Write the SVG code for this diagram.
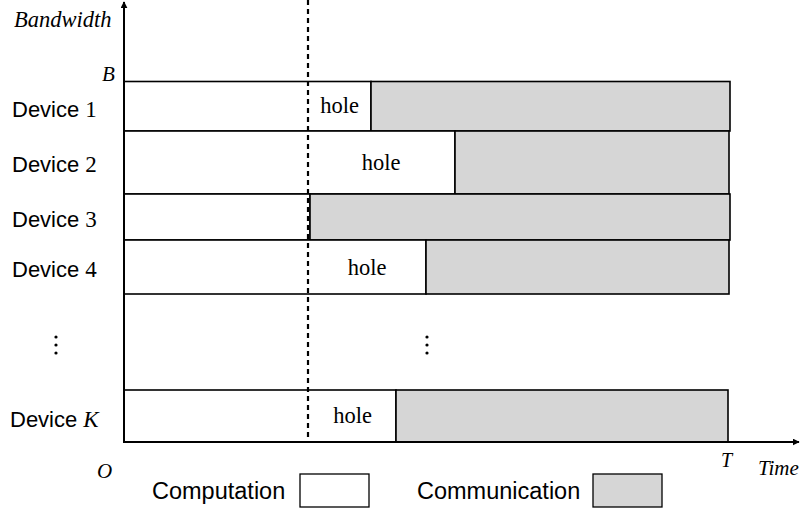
<svg xmlns="http://www.w3.org/2000/svg" width="801" height="512" viewBox="0 0 801 512">
<defs>
<style>
.sans{font-family:"Liberation Sans",Arial,sans-serif;font-size:22px;fill:#000}
.leg{font-family:"Liberation Sans",Arial,sans-serif;font-size:23.5px;fill:#000}
.serif{font-family:"Liberation Serif","Times New Roman",serif;fill:#000}
.it{font-style:italic}
.comp{fill:#fff;stroke:#000;stroke-width:1.6}
.comm{fill:#d6d6d6;stroke:#000;stroke-width:1.6}
.axis{stroke:#000;stroke-width:2;fill:none}
.hole{font-family:"Liberation Serif","Times New Roman",serif;font-size:22.5px;text-anchor:middle}
</style>
<marker id="arr" viewBox="0 0 10 10" refX="9" refY="5" markerWidth="7" markerHeight="7" orient="auto" markerUnits="userSpaceOnUse">
<path d="M0,0 L10,5 L0,10 z" fill="#000"/>
</marker>
</defs>
<rect width="801" height="512" fill="#fff"/>
<g id="device1">
<rect class="comp" x="124" y="81.5" width="247" height="49.5"/>
<rect class="comm" x="371" y="81.5" width="359" height="49.5"/>
<text class="hole" x="339.5" y="113">hole</text>
<text class="sans" x="12" y="117">Device <tspan class="serif" font-size="23">1</tspan></text>
</g>
<g id="device2">
<rect class="comp" x="124" y="131" width="331" height="63"/>
<rect class="comm" x="455" y="131" width="274" height="63"/>
<text class="hole" x="381" y="170">hole</text>
<text class="sans" x="12" y="172">Device <tspan class="serif" font-size="23">2</tspan></text>
</g>
<g id="device3">
<rect class="comp" x="124" y="194" width="186" height="46"/>
<rect class="comm" x="310" y="194" width="420" height="46"/>
<text class="sans" x="12" y="227">Device <tspan class="serif" font-size="23">3</tspan></text>
</g>
<g id="device4">
<rect class="comp" x="124" y="240" width="302" height="54"/>
<rect class="comm" x="426" y="240" width="303" height="54"/>
<text class="hole" x="367" y="275">hole</text>
<text class="sans" x="12" y="277">Device <tspan class="serif" font-size="23">4</tspan></text>
</g>
<g id="deviceK">
<rect class="comp" x="124" y="390" width="272" height="52"/>
<rect class="comm" x="396" y="390" width="332" height="52"/>
<text class="hole" x="352.5" y="423">hole</text>
<text class="sans" x="10" y="427">Device <tspan class="serif it" font-size="23">K</tspan></text>
</g>
<g id="dots">
<circle cx="56" cy="337" r="1.6"/><circle cx="56" cy="345" r="1.6"/><circle cx="56" cy="353" r="1.6"/>
<circle cx="427" cy="337" r="1.6"/><circle cx="427" cy="345" r="1.6"/><circle cx="427" cy="353" r="1.6"/>
</g>
<g id="connectors">
<line class="axis" x1="124" y1="442" x2="124" y2="2" marker-end="url(#arr)"/>
<line class="axis" x1="123" y1="442" x2="799" y2="442" marker-end="url(#arr)"/>
<line x1="308" y1="0" x2="308" y2="442" stroke="#000" stroke-width="2.2" stroke-dasharray="5,4"/>
</g>
<g id="labels">
<text class="serif it" x="14" y="27" font-size="22.5">Bandwidth</text>
<text class="serif it" x="102" y="81" font-size="21">B</text>
<text class="serif it" x="97" y="478" font-size="21">O</text>
<text class="serif it" x="721" y="467" font-size="20">T</text>
<text class="serif it" x="758" y="475" font-size="21">Time</text>
</g>
<g id="legend">
<text class="leg" x="152" y="499">Computation</text>
<rect x="300" y="474" width="69" height="33" fill="#fff" stroke="#000" stroke-width="1.3"/>
<text class="leg" x="417" y="499">Communication</text>
<rect x="593" y="474" width="69" height="33" fill="#d6d6d6" stroke="#000" stroke-width="1.3"/>
</g>
</svg>
